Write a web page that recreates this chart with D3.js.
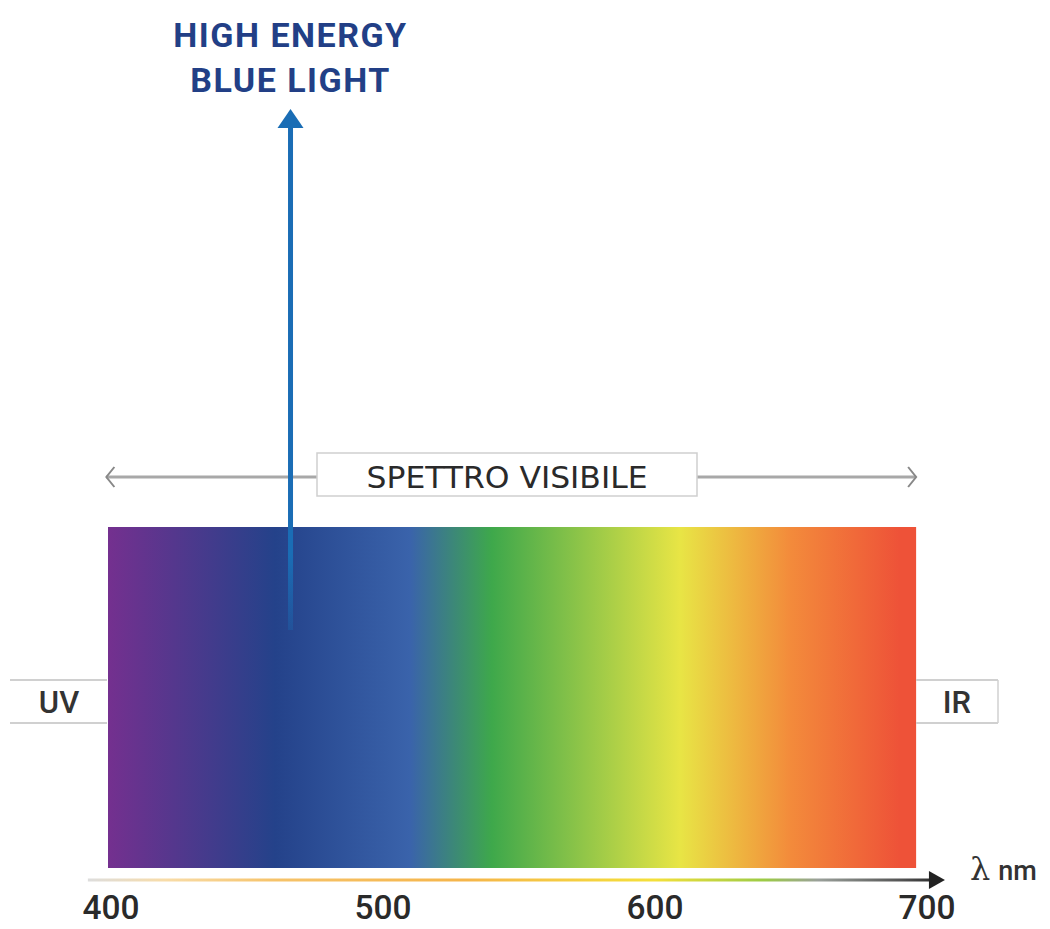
<!DOCTYPE html>
<html>
<head>
<meta charset="utf-8">
<script src="https://cdn.jsdelivr.net/npm/d3@7"></script>
<style>
  body { margin: 0; background: #fff; }
</style>
</head>
<body>
<div id="chart"></div>
<script>
// data
const ticks = [400, 500, 600, 700];
const spectrumNm = [398.9, 460.3, 509.9, 540, 609.2, 649.6, 690, 696];
const spectrumColors = ["#74308f", "#24428a", "#3a63ab", "#3ea84b", "#e8e545", "#f38b3b", "#ee5238", "#ee5238"];
const axisNm = [391.5, 706.6];
const axisLineNm = [391.5, 420, 460, 530, 600, 640, 660, 690, 706.6];
const axisLineColors = ["#dddddd", "#f8dca8", "#f6c36a", "#f5b54a", "#f4e03a", "#9ccb45", "#9aa09a", "#555555", "#222222"];
const blueLightNm = 466;
const visibleRange = [398.3, 696];
const titleLines = ["HIGH ENERGY", "BLUE LIGHT"];

const width = 1050, height = 929;

const svg = d3.select("#chart")
  .append("svg")
  .attr("width", width)
  .attr("height", height);

// wavelength scale
const x = d3.scaleLinear()
  .domain([400, 700])
  .range([111, 927]);

const defs = svg.append("defs");

// spectrum gradient
const grad = defs.append("linearGradient")
  .attr("id", "spectrum")
  .attr("gradientUnits", "userSpaceOnUse")
  .attr("x1", x(spectrumNm[0])).attr("x2", x(spectrumNm[spectrumNm.length - 1]))
  .attr("y1", 0).attr("y2", 0);
const sExt = x(spectrumNm[spectrumNm.length - 1]) - x(spectrumNm[0]);
grad.selectAll("stop")
  .data(spectrumNm)
  .enter().append("stop")
  .attr("offset", d => (x(d) - x(spectrumNm[0])) / sExt)
  .attr("stop-color", (d, i) => spectrumColors[i]);

// axis line gradient
const agrad = defs.append("linearGradient")
  .attr("id", "axisgrad")
  .attr("gradientUnits", "userSpaceOnUse")
  .attr("x1", x(axisNm[0])).attr("x2", x(axisNm[1]))
  .attr("y1", 0).attr("y2", 0);
const aExt = x(axisNm[1]) - x(axisNm[0]);
agrad.selectAll("stop")
  .data(axisLineNm)
  .enter().append("stop")
  .attr("offset", d => (x(d) - x(axisNm[0])) / aExt)
  .attr("stop-color", (d, i) => axisLineColors[i]);

// blue arrow fade
const bgrad = defs.append("linearGradient")
  .attr("id", "bluefade")
  .attr("x1", 0).attr("x2", 0).attr("y1", 0).attr("y2", 1);
bgrad.append("stop").attr("offset", 0.85).attr("stop-color", "#1a6db5").attr("stop-opacity", 1);
bgrad.append("stop").attr("offset", 1).attr("stop-color", "#1a6db5").attr("stop-opacity", 0.3);

// spectrum rectangle
const specTop = 527, specBottom = 868;
svg.append("rect")
  .attr("x", x(spectrumNm[0]))
  .attr("y", specTop)
  .attr("width", sExt)
  .attr("height", specBottom - specTop)
  .attr("fill", "url(#spectrum)");

// UV / IR boxes
const boxY = 680, boxH = 43;
const sideBox = (x0, x1, label, tx) => {
  const g = svg.append("g");
  g.append("line").attr("x1", x0).attr("x2", x1).attr("y1", boxY).attr("y2", boxY)
    .attr("stroke", "#d0d0d0").attr("stroke-width", 2);
  g.append("line").attr("x1", x0).attr("x2", x1).attr("y1", boxY + boxH).attr("y2", boxY + boxH)
    .attr("stroke", "#d0d0d0").attr("stroke-width", 2);
  g.append("text")
    .attr("x", tx).attr("y", boxY + 33)
    .attr("text-anchor", "middle")
    .style("font-family", "Roboto, 'DejaVu Sans', sans-serif")
    .style("font-weight", "500")
    .style("font-size", "31px")
    .attr("fill", "#333")
    .text(label);
  return g;
};
sideBox(10, x(spectrumNm[0]) - 1, "UV", 59);
const ir = sideBox(x(spectrumNm[spectrumNm.length - 1]), 998, "IR", 957);
ir.append("line").attr("x1", 998).attr("x2", 998).attr("y1", boxY).attr("y2", boxY + boxH)
  .attr("stroke", "#d0d0d0").attr("stroke-width", 1.5);

// visible spectrum double arrow
const visY = 477;
const vx0 = x(visibleRange[0]), vx1 = x(visibleRange[1]);
svg.append("line")
  .attr("x1", vx0).attr("x2", vx1).attr("y1", visY).attr("y2", visY)
  .attr("stroke", "#a8a8a8").attr("stroke-width", 3);
svg.append("path")
  .attr("d", `M${vx0 + 8},${visY - 10} L${vx0},${visY} L${vx0 + 8},${visY + 10}`)
  .attr("fill", "none").attr("stroke", "#888").attr("stroke-width", 2);
svg.append("path")
  .attr("d", `M${vx1 - 8},${visY - 10} L${vx1},${visY} L${vx1 - 8},${visY + 10}`)
  .attr("fill", "none").attr("stroke", "#888").attr("stroke-width", 2);

// blue light arrow
const bx = x(blueLightNm);
svg.append("rect")
  .attr("x", bx - 2.5).attr("y", 124)
  .attr("width", 5).attr("height", 630 - 124)
  .attr("fill", "url(#bluefade)");
svg.append("path")
  .attr("d", `M${bx},109 L${bx + 13},128 L${bx - 13},128 Z`)
  .attr("fill", "#1a6db5");

// label box
svg.append("rect")
  .attr("x", 317).attr("y", 453)
  .attr("width", 380).attr("height", 43)
  .attr("fill", "#fff")
  .attr("stroke", "#cfcfcf").attr("stroke-width", 1.5);
svg.append("text")
  .attr("x", 507).attr("y", 488)
  .attr("text-anchor", "middle")
  .style("font-family", "'DejaVu Sans Condensed', 'DejaVu Sans', sans-serif")
  .style("font-size", "31px")
  .attr("fill", "#2a2a2a")
  .attr("textLength", 281)
  .attr("lengthAdjust", "spacingAndGlyphs")
  .text("SPETTRO VISIBILE");

// title
svg.append("text")
  .attr("text-anchor", "middle")
  .style("font-family", "Roboto, 'DejaVu Sans', sans-serif")
  .style("font-weight", "bold")
  .style("font-size", "34px")
  .style("letter-spacing", "1.5px")
  .attr("fill", "#223f86")
  .selectAll("tspan")
  .data(titleLines)
  .enter().append("tspan")
  .attr("x", bx)
  .attr("y", (d, i) => 47 + i * 45)
  .text(d => d);

// wavelength axis
const axisY = 880;
svg.append("line")
  .attr("x1", x(axisNm[0])).attr("x2", x(axisNm[1]) - 14)
  .attr("y1", axisY).attr("y2", axisY)
  .attr("stroke", "url(#axisgrad)").attr("stroke-width", 3);
const ax1 = x(axisNm[1]);
svg.append("path")
  .attr("d", `M${ax1},${axisY} L${ax1 - 16},${axisY - 9} L${ax1 - 16},${axisY + 9} Z`)
  .attr("fill", "#222");

svg.append("g")
  .selectAll("text")
  .data(ticks)
  .enter().append("text")
  .attr("x", d => x(d))
  .attr("y", 919)
  .attr("text-anchor", "middle")
  .style("font-family", "Roboto, 'DejaVu Sans', sans-serif")
  .style("font-weight", "500")
  .style("font-size", "33px")
  .attr("textLength", 57)
  .attr("lengthAdjust", "spacingAndGlyphs")
  .attr("fill", "#2a2a2a")
  .text(d => d);

// lambda label
const lam = svg.append("text")
  .attr("x", 970).attr("y", 880)
  .attr("fill", "#333");
lam.append("tspan")
  .style("font-family", "'DejaVu Serif', serif")
  .style("font-size", "32px")
  .text("λ");
lam.append("tspan")
  .attr("dx", 8)
  .style("font-family", "Roboto, 'DejaVu Sans', sans-serif")
  .style("font-weight", "500")
  .style("font-size", "27px")
  .text("nm");
</script>
</body>
</html>
